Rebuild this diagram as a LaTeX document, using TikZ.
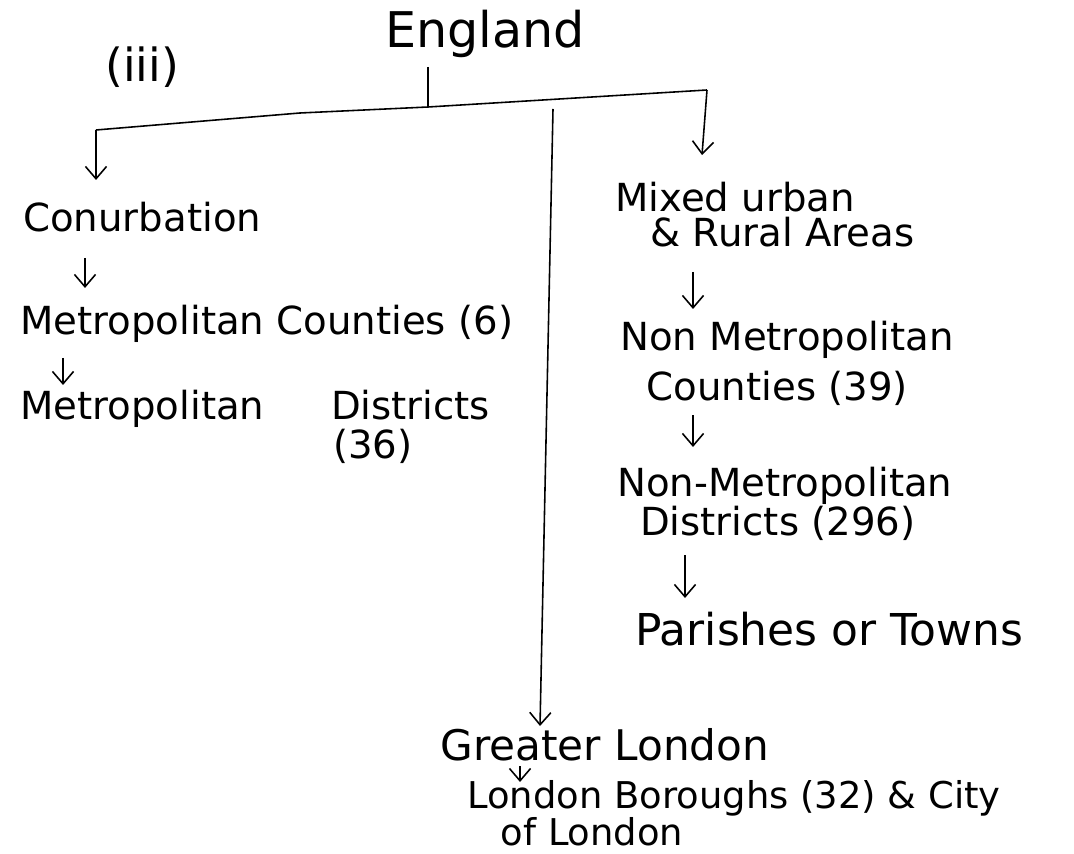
\documentclass[tikz,border=0pt]{standalone}
\usepackage{fontspec}
\setmainfont{DejaVu Sans}
\usetikzlibrary{positioning,arrows.meta,calc}
\begin{document}
\begin{tikzpicture}[x=0.02cm,y=-0.02cm,
		every node/.style={
			font=\fontsize{22}{20}\selectfont,
			execute at begin node={\lineskiplimit=-50pt},
			inner sep=0pt,
			anchor=base west,
			align=left
		},
		arrow/.style={-{Straight Barb[length=7pt,width=12pt]},line width=0.9pt},
		link/.style={line width=0.9pt}
		]
		\useasboundingbox (0,0) rectangle (1074,854);
		
		\node[font=\fontsize{28}{30}\selectfont] (eng) at (385,48) {England};
		\node[font=\fontsize{26}{20}\selectfont] (num) at (105,82) {(iii)};
		
		% left branch
		\node (conurb) at (23,232) {Conurbation};
		\node (metc) at (20,335) {Metropolitan Counties (6)};
		\node[font=\fontsize{22}{22}\selectfont] (metd) at (20,458) {Metropolitan\hspace{38pt}Districts\\\hspace*{178pt}(36)};
		
		% right branch
		\node (mixed) at (615,247) {Mixed urban\\\hspace*{20pt}\& Rural Areas};
		\node (nmc) at (620,400) {Non Metropolitan\\[8pt]\hspace*{15pt}Counties (39)};
		\node (nmd) at (617,535) {Non-Metropolitan\\[2pt]\hspace*{13pt}Districts (296)};
		\node[font=\fontsize{25}{20}\selectfont] (par) at (635,645) {Parishes or Towns};
		
		% middle branch
		\node[font=\fontsize{24}{20}\selectfont] (gl) at (440,760) {Greater London};
		\node[font=\fontsize{21}{21}\selectfont] (lb) at (467,845) {London Boroughs (32) \& City\\\hspace*{19pt}of London};
		
		\coordinate (stem) at (428,107);
		\coordinate (barL) at (96,130);
		\coordinate (barM) at (553,109);
		\coordinate (barR) at (707,90);
		
		\draw[link] (eng.base -| stem) ++(0,19) -- (stem);
		\draw[link] (barL) -- (300,113) -- (stem) -- (barR);
		
		\draw[arrow] (barL) -- ($(conurb.base west)+(73,-52)$);
		\draw[arrow] (barR) -- ($(mixed.base west)+(87,-92)$);
		\draw[arrow] (barM) -- ($(gl.base west)+(100,-34)$);
		
		\draw[arrow] ($(conurb.base west)+(62,26)$) -- ($(metc.base west)+(65,-47)$);
		\draw[arrow] ($(metc.base west)+(43,23)$) -- ($(metd.base west)+(43,-73)$);
		
		\draw[arrow] ($(mixed.base west)+(78,25)$) -- ($(nmc.base west)+(73,-91)$);
		\draw[arrow] ($(nmc.base west)+(73,15)$) -- ($(nmd.base west)+(76,-88)$);
		\draw[arrow] ($(nmd.base west)+(68,20)$) -- ($(par.base west)+(50,-47)$);
		
		\draw[arrow] ($(gl.base west)+(80,6)$) -- ($(lb.base west)+(53,-63)$);
		
	\end{tikzpicture}
\end{document}
